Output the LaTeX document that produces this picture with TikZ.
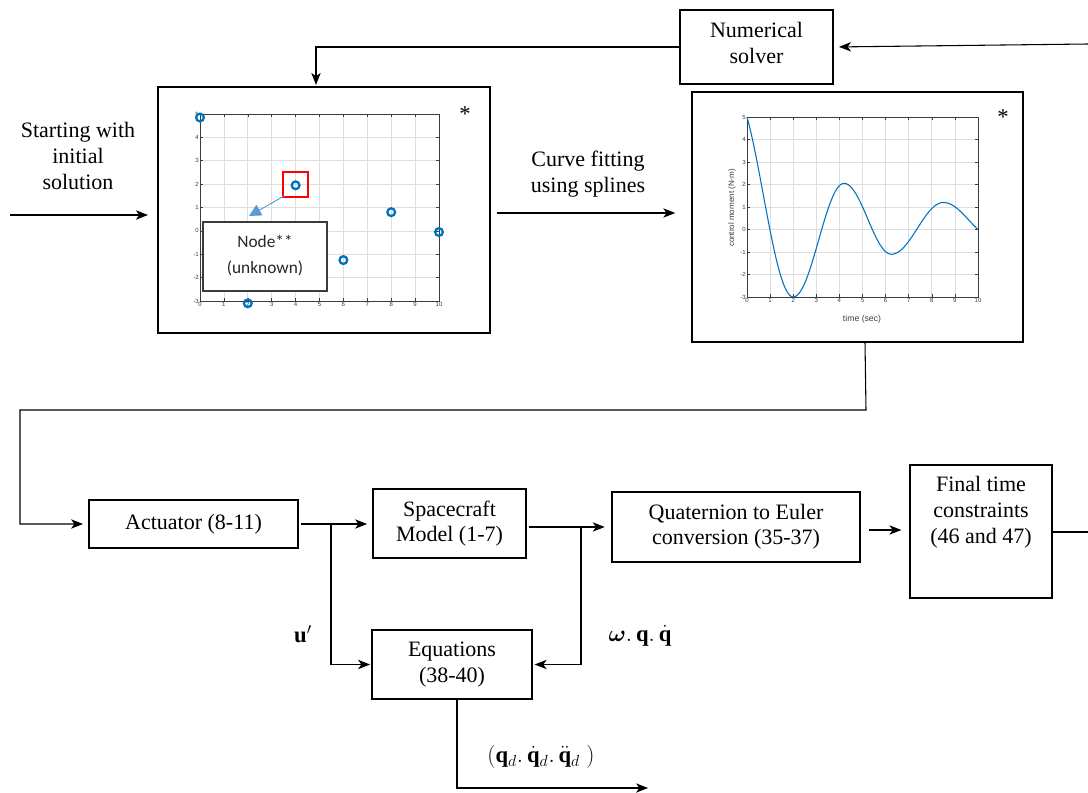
\documentclass[tikz,border=0pt]{standalone}
\usepackage{amsmath}
\usepackage{fontspec}
\setmainfont{Liberation Serif}
\newfontfamily\plotfont{Liberation Sans}
\newfontfamily\calfont{Carlito}
\usetikzlibrary{arrows.meta,calc}
\definecolor{mblue}{RGB}{0,114,189}
\definecolor{lblue}{RGB}{91,155,213}
\definecolor{gridc}{RGB}{222,222,222}
\definecolor{axc}{RGB}{60,60,60}
\begin{document}
\begin{tikzpicture}[x=0.75pt,y=-0.75pt,
  box/.style={draw=black, line width=0.9pt, fill=white, align=center, inner sep=0pt,
    font=\fontsize{16.5}{19}\selectfont},
  txt/.style={align=center, inner sep=0pt, font=\fontsize{16.5}{19.5}\selectfont},
  mathlbl/.style={inner sep=0pt, font=\fontsize{17}{20}\selectfont},
  arr/.style={-{Stealth[length=9pt,width=7pt,inset=2.5pt]}, line width=0.8pt},
  ln/.style={line width=0.8pt},
  gridline/.style={draw=gridc, line width=0.5pt},
  axframe/.style={draw=axc, line width=0.7pt},
  tickl/.style={draw=axc, line width=0.4pt},
  ticklbl/.style={inner sep=0.8pt, text=axc, font=\plotfont\fontsize{4.5}{5}\selectfont},
  datamark/.style={draw=mblue, line width=1.7pt},
  starlbl/.style={inner sep=0pt, font=\fontsize{17}{18}\selectfont},
  curve/.style={mblue, line width=0.8pt}
]
\useasboundingbox (0,0) rectangle (1088,792);

% ---------- boxes ----------
\node[box, minimum width=114.75pt, minimum height=55.5pt] (solver) at (756.5,47) {};
\node[txt] (solvert) at (756.5,43) {Numerical\\solver};
\node[box, line width=1.1pt, minimum width=249pt, minimum height=184.5pt] (plotA) at (324,210) {};
\node[box, line width=1.1pt, minimum width=248.25pt, minimum height=187.5pt] (plotB) at (857.5,217) {};
\node[box, minimum width=156.75pt, minimum height=36pt] (act) at (193.5,524) {Actuator (8-11)};
\node[box, minimum width=114.75pt, minimum height=51.75pt] (sc) at (449.5,523.5) {Spacecraft\\Model (1-7)};
\node[box, minimum width=186pt, minimum height=52.5pt] (quat) at (736,527) {Quaternion to Euler\\conversion (35-37)};
\node[box, minimum width=106.5pt, minimum height=99.75pt] (final) at (981,531.5) {};
\node[txt] (finalt) at (981,512) {Final time\\constraints\\(46 and 47)};
\node[box, minimum width=120pt, minimum height=51.75pt] (eq) at (452,664.5) {Equations\\(38-40)};

% ---------- plot A (nodes) ----------
\begin{scope}[shift={(200,230.875)}, x=17.925pt, y=17.53pt]
  \draw[gridline, step=1] (0,-3) grid (10,5);
  \foreach \i in {0,...,10} {
    \draw[tickl] (\i,-3) -- ++(0,0.12);
    \draw[tickl] (\i,5) -- ++(0,-0.12);
    \node[ticklbl, below] (ax\i) at (\i,-3) {\i};
  }
  \foreach \j in {-3,...,5} {
    \draw[tickl] (0,\j) -- ++(0.12,0);
    \draw[tickl] (10,\j) -- ++(-0.12,0);
    \node[ticklbl, left] (ay\j) at (0,\j) {\j};
  }
  \draw[axframe] (0,-3) rectangle (10,5);
  \foreach \t/\v in {0/4.85, 2/-3.1, 4/1.95, 6/-1.25, 8/0.8, 10/-0.05} {
    \draw[datamark] (\t,\v) circle[radius=2.9pt];
  }
\end{scope}
\draw[red, line width=1.6pt] (283,172) rectangle (308,197);
\coordinate (sqc) at (284,196);
\coordinate (tipA) at (249,216);
\draw[lblue, line width=0.7pt, -{Triangle[length=9pt,width=9pt]}] (sqc) -- (tipA);
\node[draw=axc, line width=0.8pt, fill=white, minimum width=93pt, minimum height=51.75pt] (nodebox) at (265,256.5) {};
\node[align=center, inner sep=0pt, text=black!85, font=\calfont\fontsize{13}{19.5}\selectfont] (nodet) at (265,256) {Node**\\(unknown)};
\node[starlbl] (starA) at (465,114) {*};

% ---------- plot B (curve) ----------
\begin{scope}[shift={(747,229.5)}, x=17.325pt, y=16.875pt]
  \draw[gridline, step=1] (0,-3) grid (10,5);
  \foreach \i in {0,...,10} {
    \draw[tickl] (\i,-3) -- ++(0,0.12);
    \draw[tickl] (\i,5) -- ++(0,-0.12);
    \node[ticklbl, below] (bx\i) at (\i,-3) {\i};
  }
  \foreach \j in {-3,...,5} {
    \draw[tickl] (0,\j) -- ++(0.12,0);
    \draw[tickl] (10,\j) -- ++(-0.12,0);
    \node[ticklbl, left] (by\j) at (0,\j) {\j};
  }
  \draw[axframe] (0,-3) rectangle (10,5);
  \draw[curve] plot[domain=0:2, samples=30] (\x, {-3 + 8*(1-cos(180*(2-\x)/2.6))/1.7485})
    -- plot[domain=2:4.2, samples=30] (\x, {-0.475 - 2.525*cos(180*(\x-2)/2.2)})
    -- plot[domain=4.2:6.25, samples=30] (\x, {0.475 + 1.575*cos(180*(\x-4.2)/2.05)})
    -- plot[domain=6.25:8.5, samples=30] (\x, {0.05 - 1.15*cos(180*(\x-6.25)/2.25)})
    -- plot[domain=8.5:10, samples=25] (\x, {0.421 + 0.779*cos(180*(\x-8.5)/2.2)});
\end{scope}
\node[rotate=90, inner sep=0pt, text=axc, font=\plotfont\fontsize{6}{7}\selectfont] (ylab) at (732,208) {control moment (N-m)};
\node[inner sep=0pt, text=axc, font=\plotfont\fontsize{6.5}{7}\selectfont] (xlab) at (862,319) {time (sec)};
\node[starlbl] (starB) at (1003,117) {*};

% ---------- labels ----------
\node[txt] (startlbl) at (78,156) {Starting with\\initial\\solution};
\node[txt] (curvelbl) at (588,174) {Curve fitting\\using splines};
\node[mathlbl] (ulbl) at (303,634) {$\mathbf{u}'$};
\node[mathlbl] (wlbl) at (640,636) {$\boldsymbol{\omega}.\,\mathbf{q}.\,\dot{\mathbf{q}}$};
\node[mathlbl] (qlbl) at (541,757) {$(\mathbf{q}_{d}.\,\dot{\mathbf{q}}_{d}.\,\ddot{\mathbf{q}}_{d}\;)$};

% ---------- connectors ----------
\coordinate (s0) at (10,215);
\draw[arr, shorten >=7pt] (s0) -- (s0 -| plotA.west);
\coordinate (pa) at (490,213);
\draw[arr, shorten <=5pt, shorten >=12pt] (pa) -- (pa -| plotB.west);
\coordinate (rin) at (1088,44);
\draw[arr, shorten >=4pt] (rin) -- (solver.east);
\coordinate (tA) at ($(plotA.north)+(-8,0)$);
\draw[arr, shorten >=1pt] (solver.west) -| (tA);
\coordinate (bs) at ($(plotB.south)+(7.5,0)$);
\coordinate (c1) at (866,410);
\coordinate (c2) at (20,410);
\draw[arr, shorten >=4pt] (bs) -- (c1) -- (c2) |- (act.west);
\draw[arr, shorten <=2pt, shorten >=4pt] (act.east) -- (act.east -| sc.west);
\coordinate (b1) at (331,524);
\draw[arr, shorten >=1pt] (b1) |- (eq.west);
\draw[arr, shorten <=2pt, shorten >=5pt] (quat.west -| sc.east) -- (quat.west);
\coordinate (b2) at (581,527);
\draw[arr, shorten >=1.5pt] (b2) |- (eq.east);
\coordinate (qf) at (860,530);
\draw[arr, shorten <=7pt, shorten >=6pt] (qf) -- (qf -| final.west);
\coordinate (fout) at (1088,532);
\draw[ln] (final.east |- fout) -- (fout);
\coordinate (es) at ($(eq.south)+(5,0)$);
\coordinate (eout) at (648,788);
\draw[arr] (es) |- (eout);
\end{tikzpicture}
\end{document}
